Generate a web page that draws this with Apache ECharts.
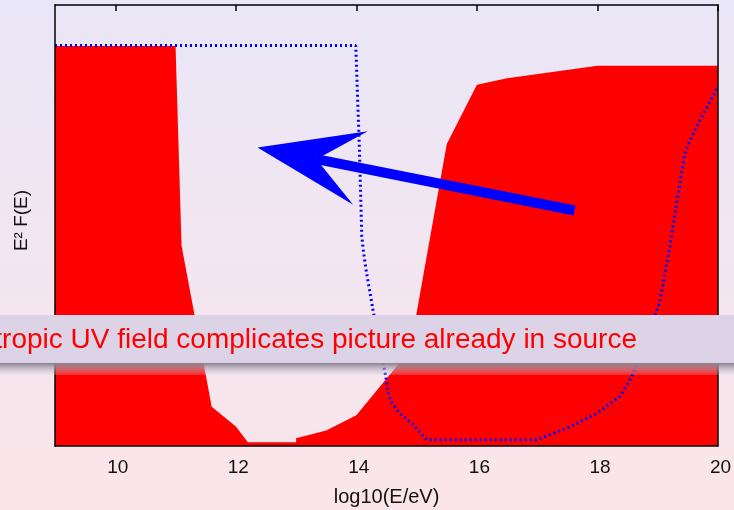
<!DOCTYPE html>
<html>
<head>
<meta charset="utf-8">
<script src="https://cdn.jsdelivr.net/npm/echarts@6/dist/echarts.min.js"></script>
<style>html,body{margin:0;padding:0;}#c{width:734px;height:510px;}</style>
</head>
<body>
<div id="c"></div>
<script>
// ---- data ----
const xTicks = [10, 12, 14, 16, 18, 20];
const redX = [9, 11, 11.1, 11.6, 12, 12.2, 13, 13, 13.5, 14, 14.55, 14.9, 15, 15.5, 16, 16.5, 18, 20];
const redY = [90.7, 90.7, 45.4, 8.9, 4.4, 0.85, 0.85, 1.75, 3.5, 7.0, 16.1, 21.8, 30.2, 68.5, 81.9, 83.4, 86.2, 86.2];
const blueX = [9, 13.99, 14.05, 14.09, 14.12, 14.17, 14.28, 14.49, 14.53, 14.59, 14.72, 14.94, 15.17, 16.99, 17.02, 17.49, 17.99, 18.37, 18.57, 19.03, 19.2, 19.34, 19.45, 19.54, 19.7, 20];
const blueY = [90.8, 90.8, 67.6, 47.5, 43.8, 39.2, 30.5, 15.6, 11.9, 9.7, 7.4, 4.8, 1.4, 1.4, 1.7, 4.0, 7.4, 11.2, 15.7, 32.4, 45.2, 57.3, 66.4, 69.4, 73.9, 81.5];
const arrowFrom = [17.62, 53.4];
const arrowTo = [12.36, 67.7];
const bannerText = 'tropic UV field complicates picture already in source';
const xName = 'log10(E/eV)';
const yName = 'E\u00B2 F(E)';

const FONT = 'Liberation Sans';
const chart = echarts.init(document.getElementById('c'), null, {renderer: 'canvas'});
const axisLineStyle = {color: '#000', width: 1.5};

const option = {
  animation: false,
  backgroundColor: {
    type: 'linear', x: 0, y: 0, x2: 0, y2: 1,
    colorStops: [{offset: 0, color: '#e9e6f7'}, {offset: 1, color: '#fbe5e9'}]
  },
  grid: {left: 55, right: 16, top: 5, bottom: 64, containLabel: false, outerBoundsMode: 'none'},
  xAxis: [
    {
      type: 'value', min: 9, max: 20, position: 'bottom', z: 3,
      axisLine: {show: true, onZero: false, lineStyle: axisLineStyle},
      axisTick: {show: false},
      splitLine: {show: false},
      axisLabel: {customValues: xTicks, color: '#111', fontSize: 19, fontFamily: FONT, margin: 12, padding: [0, 0, 0, 5], showMaxLabel: true, showMinLabel: true},
      name: xName, nameLocation: 'middle', nameGap: 41,
      nameTextStyle: {color: '#111', fontSize: 20, fontFamily: FONT}
    },
    {
      type: 'value', min: 9, max: 20, position: 'top', z: 3,
      axisLine: {show: true, onZero: false, lineStyle: axisLineStyle},
      axisTick: {show: true, inside: true, length: 6, customValues: xTicks, lineStyle: {color: '#000', width: 1.5}},
      axisLabel: {show: false},
      splitLine: {show: false}
    }
  ],
  yAxis: [
    {
      type: 'value', min: 0, max: 100, position: 'left', z: 3,
      axisLine: {show: true, onZero: false, lineStyle: axisLineStyle},
      axisTick: {show: false}, axisLabel: {show: false}, splitLine: {show: false},
      name: yName, nameLocation: 'middle', nameRotate: 90, nameGap: 24,
      nameTextStyle: {color: '#111', fontSize: 19, fontFamily: FONT, padding: [0, 0, 0, 10]}
    },
    {
      type: 'value', min: 0, max: 100, position: 'right', z: 3,
      axisLine: {show: true, onZero: false, lineStyle: axisLineStyle},
      axisTick: {show: false}, axisLabel: {show: false}, splitLine: {show: false}
    }
  ],
  series: [
    {
      type: 'line', silent: true, symbol: 'none', z: 2,
      data: redX.map((x, i) => [x, redY[i]]),
      lineStyle: {width: 0},
      areaStyle: {color: '#ff0000', opacity: 1, origin: 'start'}
    },
    {
      type: 'line', silent: true, symbol: 'none', z: 2,
      data: blueX.map((x, i) => [x, blueY[i]]),
      lineStyle: {color: '#0000ff', width: 3, type: [2, 3]}
    },
    {
      type: 'custom', silent: true, z: 4,
      encode: {x: [0, 2], y: [1, 3]},
      data: [[arrowFrom[0], arrowFrom[1], arrowTo[0], arrowTo[1]]],
      renderItem: function (params, api) {
        const a = api.coord([api.value(0), api.value(1)]);
        const b = api.coord([api.value(2), api.value(3)]);
        const dx = b[0] - a[0], dy = b[1] - a[1];
        const len = Math.hypot(dx, dy);
        const ux = dx / len, uy = dy / len;
        const nx = -uy, ny = ux;
        const L = 105, W = 37.5, N = 60, S = 5;
        const notch = [b[0] - ux * N, b[1] - uy * N];
        const shaft = [
          [a[0] + nx * S, a[1] + ny * S],
          [notch[0] + nx * S, notch[1] + ny * S],
          [notch[0] - nx * S, notch[1] - ny * S],
          [a[0] - nx * S, a[1] - ny * S]
        ];
        const head = [
          b,
          [b[0] - ux * L + nx * W, b[1] - uy * L + ny * W],
          notch,
          [b[0] - ux * L - nx * W, b[1] - uy * L - ny * W]
        ];
        return {
          type: 'group',
          children: [
            {type: 'polygon', shape: {points: shaft}, style: {fill: '#0000ff'}},
            {type: 'polygon', shape: {points: head}, style: {fill: '#0000ff'}}
          ]
        };
      }
    }
  ],
  graphic: [
    {
      type: 'rect', z: 100, silent: true,
      shape: {x: 0, y: 315, width: 734, height: 48},
      style: {fill: '#ddd3e7'}
    },
    {
      type: 'rect', z: 100, silent: true,
      shape: {x: 0, y: 363, width: 734, height: 12},
      style: {
        fill: {
          type: 'linear', x: 0, y: 0, x2: 0, y2: 1,
          colorStops: [{offset: 0, color: '#86818d'}, {offset: 1, color: 'rgba(215,205,220,0.2)'}]
        }
      }
    },
    {
      type: 'text', z: 101, silent: true,
      x: 637, y: 340,
      style: {
        text: bannerText, fill: '#ff0000',
        fontSize: 28, fontFamily: FONT,
        align: 'right', verticalAlign: 'middle'
      }
    }
  ]
};
chart.setOption(option);
</script>
</body>
</html>
